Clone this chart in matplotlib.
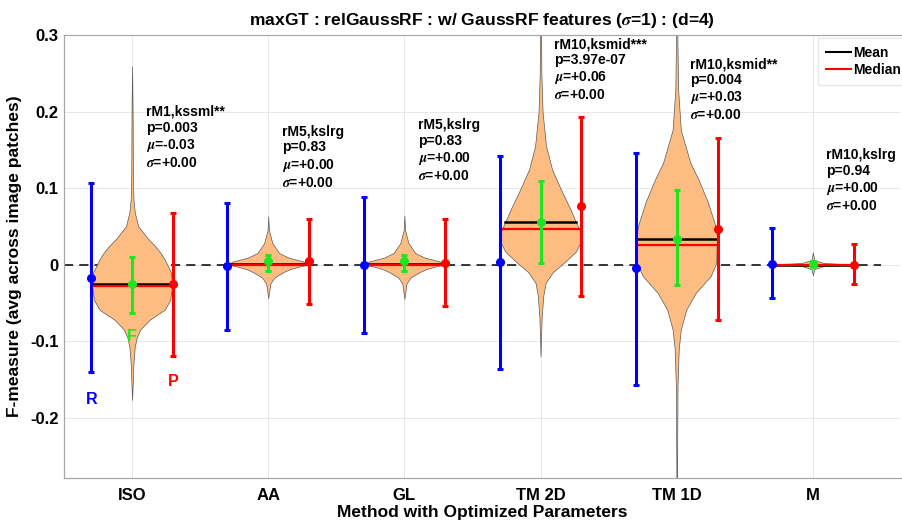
import numpy as np
import matplotlib
matplotlib.use("Agg")
import matplotlib.pyplot as plt
from matplotlib.lines import Line2D

plt.rcParams['font.family'] = ['Liberation Sans', 'DejaVu Sans']
plt.rcParams['font.weight'] = 'bold'
plt.rcParams['mathtext.fontset'] = 'stix'

# methods
methods = ['ISO', 'AA', 'GL', 'TM 2D', 'TM 1D', 'M']

# R (recall) error bars: center, low, high
r_mid = [-0.018, -0.002, 0.000, 0.003, -0.004, 0.001]
r_lo = [-0.141, -0.085, -0.089, -0.137, -0.157, -0.044]
r_hi = [0.106, 0.081, 0.088, 0.142, 0.146, 0.048]

# F (f-measure) error bars
f_mid = [-0.026, 0.004, 0.004, 0.056, 0.034, 0.001]
f_lo = [-0.063, -0.009, -0.009, 0.002, -0.027, -0.002]
f_hi = [0.010, 0.013, 0.012, 0.109, 0.097, 0.004]

# P (precision) error bars
p_mid = [-0.026, 0.004, 0.002, 0.076, 0.047, 0.000]
p_lo = [-0.119, -0.051, -0.054, -0.041, -0.072, -0.025]
p_hi = [0.068, 0.060, 0.059, 0.193, 0.166, 0.027]

means = [-0.025, 0.001, 0.001, 0.056, 0.034, 0.000]
medians = [-0.028, 0.000, 0.000, 0.046, 0.026, 0.000]

# violin outlines: y values and half widths
iso_vy = [0.259, 0.20, 0.12, 0.085, 0.068, 0.05, 0.042, 0.033, 0.024, 0.015, 0.0065,
          -0.01, -0.027, -0.046, -0.059, -0.072, -0.085, -0.095, -0.107, -0.13, -0.177]
iso_vw = [0.0, 0.004, 0.006, 0.01, 0.02, 0.045, 0.08, 0.12, 0.17, 0.21, 0.24,
          0.285, 0.295, 0.28, 0.24, 0.13, 0.06, 0.035, 0.02, 0.01, 0.0]
aa_vy = [0.063, 0.045, 0.028, 0.015, 0.009, 0.004, 0.0, -0.002, -0.006, -0.01, -0.017, -0.025, -0.044]
aa_vw = [0.0, 0.005, 0.03, 0.08, 0.15, 0.26, 0.30, 0.24, 0.16, 0.11, 0.045, 0.015, 0.0]
gl_vy = [0.064, 0.045, 0.028, 0.015, 0.009, 0.004, 0.0, -0.002, -0.006, -0.01, -0.017, -0.025, -0.045]
gl_vw = [0.0, 0.005, 0.03, 0.08, 0.15, 0.26, 0.30, 0.24, 0.16, 0.11, 0.045, 0.015, 0.0]
tm2_vy = [0.32, 0.25, 0.199, 0.155, 0.124, 0.098, 0.072, 0.055, 0.046, 0.035, 0.028,
          0.017, 0.002, -0.01, -0.024, -0.041, -0.07, -0.12]
tm2_vw = [0.003, 0.006, 0.015, 0.04, 0.085, 0.15, 0.22, 0.26, 0.285, 0.295, 0.29,
          0.26, 0.17, 0.09, 0.037, 0.02, 0.008, 0.0]
tm1_vy = [0.32, 0.23, 0.176, 0.133, 0.111, 0.081, 0.05, 0.037, 0.002, -0.015, -0.037,
          -0.059, -0.085, -0.11, -0.16, -0.29]
tm1_vw = [0.003, 0.01, 0.03, 0.10, 0.16, 0.23, 0.285, 0.295, 0.29, 0.25, 0.14,
          0.07, 0.03, 0.015, 0.006, 0.002]
m_vy = [0.016, 0.006, 0.002, 0.0, -0.002, -0.006, -0.014]
m_vw = [0.0, 0.01, 0.08, 0.30, 0.08, 0.01, 0.0]

violin_y = [iso_vy, aa_vy, gl_vy, tm2_vy, tm1_vy, m_vy]
violin_w = [iso_vw, aa_vw, gl_vw, tm2_vw, tm1_vw, m_vw]

# statistics annotations
test_names = ['rM1,kssml**', 'rM5,kslrg', 'rM5,kslrg', 'rM10,ksmid***', 'rM10,ksmid**', 'rM10,kslrg']
p_values = ['0.003', '0.83', '0.83', '3.97e-07', '0.004', '0.94']
mu_values = ['-0.03', '+0.00', '+0.00', '+0.06', '+0.03', '+0.00']
sigma_values = ['+0.00', '+0.00', '+0.00', '+0.00', '+0.00', '+0.00']
text_top = [0.209, 0.183, 0.192, 0.297, 0.271, 0.152]

ytick_vals = [-0.2, -0.1, 0, 0.1, 0.2, 0.3]
ytick_labels = ['-0.2', '-0.1', '0', '0.1', '0.2', '0.3']

BLUE = '#0000ff'
GREEN = '#1ee61e'
RED = '#ff0000'
VIOLIN = '#fdbd82'

fig = plt.figure(figsize=(9.02, 5.25), dpi=100)
ax = fig.add_axes([64 / 902, 1 - 478 / 525, (900 - 64) / 902, 443 / 525])

xs = np.arange(1, len(methods) + 1)
off = 0.3

ax.plot([0.5, 6.5], [0, 0], ls=(0, (6, 4)), color='black', lw=1.1, zorder=1)

for i, x in enumerate(xs):
    vy = np.array(violin_y[i])
    vw = np.array(violin_w[i])
    ax.fill_betweenx(vy, x - vw, x + vw, facecolor=VIOLIN, edgecolor='#5a5a5a',
                     lw=0.5, zorder=2)
    # mean / median across violin width
    order = np.argsort(vy)
    wm = np.interp(means[i], vy[order], vw[order])
    wd = np.interp(medians[i], vy[order], vw[order])
    ax.plot([x - wm, x + wm], [means[i], means[i]], color='black', lw=1.8, zorder=3)
    ax.plot([x - wd, x + wd], [medians[i], medians[i]], color=RED, lw=1.6, zorder=3)

    for dx, mid, lo, hi, col in [(-off, r_mid[i], r_lo[i], r_hi[i], BLUE),
                                 (0, f_mid[i], f_lo[i], f_hi[i], GREEN),
                                 (off, p_mid[i], p_lo[i], p_hi[i], RED)]:
        ax.errorbar(x + dx, mid, yerr=[[mid - lo], [hi - mid]], fmt='o', color=col,
                    ms=5.5, elinewidth=2.2, capsize=2.5, capthick=2.2, zorder=4)

    txt = (f"{test_names[i]}\np={p_values[i]}\n"
           f"$\\mu$={mu_values[i]}\n$\\sigma$={sigma_values[i]}")
    ax.text(x + 0.1, text_top[i], txt, fontsize=10, fontweight='bold', va='top',
            ha='left', linespacing=1.18, zorder=5)

# R / F / P labels under the first group
ax.text(1 - off, -0.176, 'R', color=BLUE, fontsize=11.5, fontweight='bold', ha='center', va='center')
ax.text(1, -0.094, 'F', color=GREEN, fontsize=11.5, fontweight='bold', ha='center', va='center')
ax.text(1 + off, -0.153, 'P', color=RED, fontsize=11.5, fontweight='bold', ha='center', va='center')

ax.set_xlim(0.5, 6.64)
ax.set_ylim(-0.279, 0.3)
ax.set_xticks(xs)
ax.set_xticklabels(methods)
ax.set_yticks(ytick_vals)
ax.set_yticklabels(ytick_labels)
ax.tick_params(axis='both', length=0, labelsize=12)
ax.tick_params(axis='x', pad=7)
ax.tick_params(axis='y', pad=4)
ax.grid(True, color='#e8e8e8', lw=0.7)
ax.set_axisbelow(True)
for s in ax.spines.values():
    s.set_color('#a8a8a8')
    s.set_linewidth(0.9)
ax.spines['right'].set_visible(False)
ax.spines['bottom'].set_bounds(0.5, 6.8)
ax.spines['top'].set_bounds(0.5, 6.8)

ax.set_xlabel('Method with Optimized Parameters', fontsize=12.5, fontweight='bold', labelpad=2)
ax.set_ylabel('F-measure (avg across image patches)', fontsize=12.5, fontweight='bold', labelpad=6)
ax.set_title('maxGT : relGaussRF : w/ GaussRF features ($\\sigma$=1) : (d=4)',
             fontsize=12.6, fontweight='bold', pad=7)

handles = [Line2D([], [], color='black', lw=1.5), Line2D([], [], color=RED, lw=1.5)]
leg = ax.legend(handles, ['Mean', 'Median'], loc='upper right', bbox_to_anchor=(1.011, 0.994),
                frameon=True, fancybox=False, edgecolor='#e0e0e0', borderaxespad=0,
                handlelength=1.8, handletextpad=0.15, borderpad=0.6, labelspacing=0.2,
                prop={'weight': 'bold', 'size': 10})
for s in ax.spines.values():
    s.set_clip_on(False)

fig.savefig('out.png', dpi=100)
